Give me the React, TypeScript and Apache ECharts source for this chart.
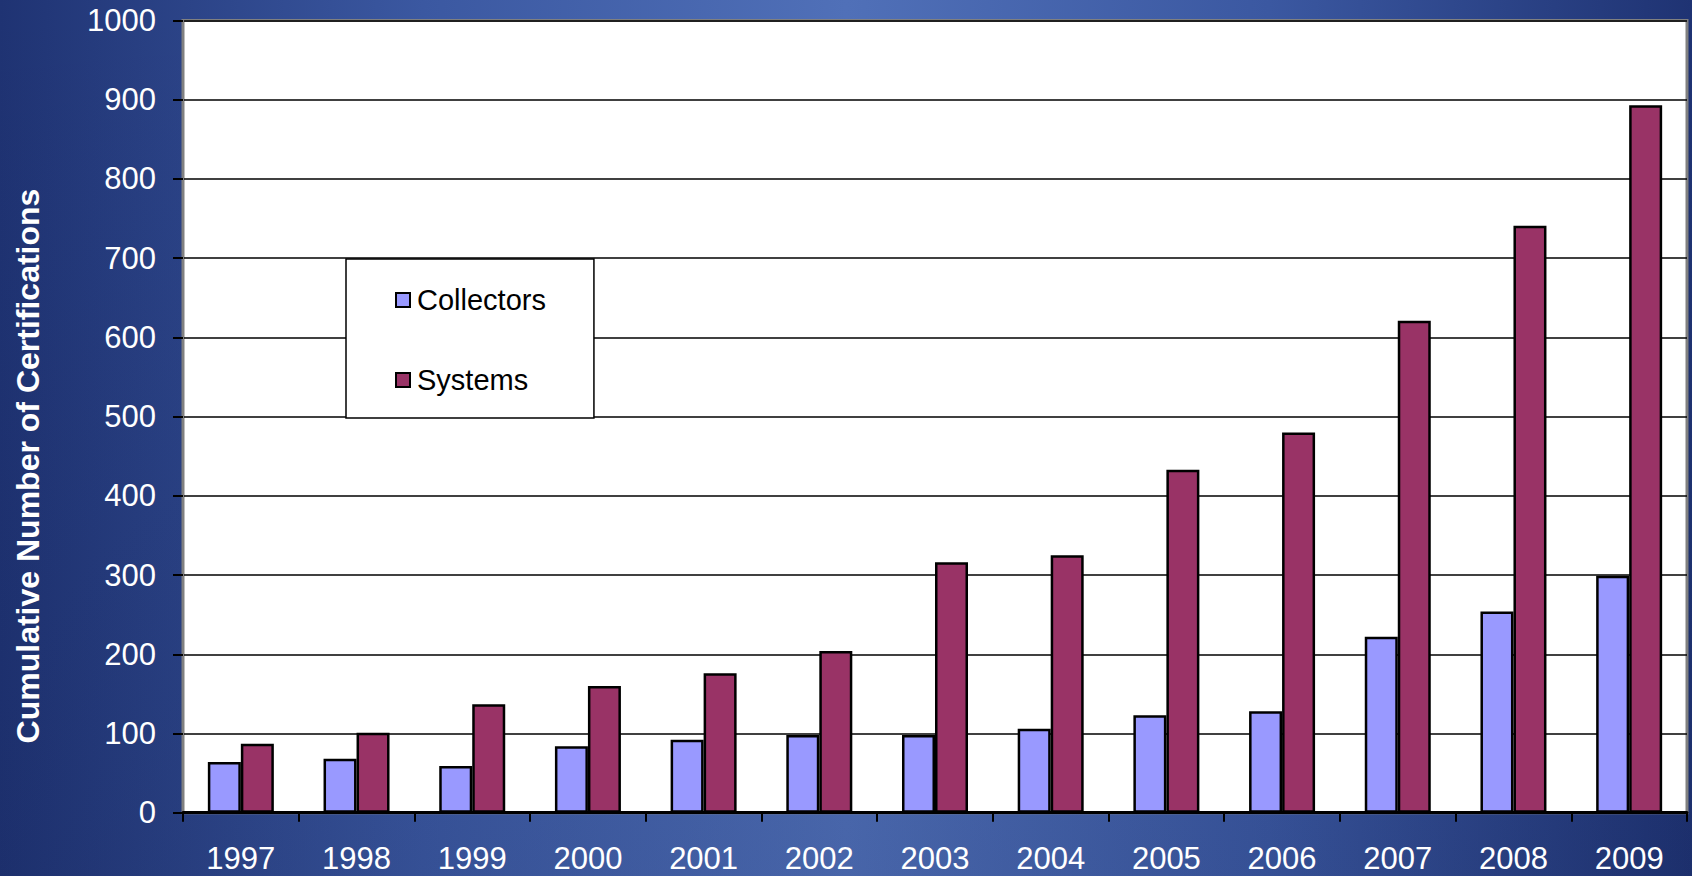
import React, { useEffect, useRef } from "react";
import * as echarts from "echarts";

const years = ["1997", "1998", "1999", "2000", "2001", "2002", "2003", "2004", "2005", "2006", "2007", "2008", "2009"];
const collectors = [64, 68, 59, 84, 92, 98, 98, 106, 123, 128, 222, 254, 299];
const systems = [87, 101, 137, 160, 176, 204, 316, 325, 433, 480, 621, 741, 893];
const yTitle = "Cumulative Number of Certifications";
const seriesNames = ["Collectors", "Systems"];

const FONT = "'Liberation Sans', Arial, Helvetica, sans-serif";

export default function App() {
  const ref = useRef<HTMLDivElement>(null);

  useEffect(() => {
    document.body.style.margin = "0";
    const chart = echarts.init(ref.current!, undefined, { renderer: "svg" });
    chart.setOption({
      animation: false,
      backgroundColor: "transparent",
      textStyle: { fontFamily: FONT },
      grid: {
        left: 183,
        right: 5,
        top: 20.5,
        bottom: 63.3,
        show: true,
        backgroundColor: "#ffffff",
        borderColor: "#808080",
        borderWidth: 3,
        containLabel: false,
      },
      legend: {
        orient: "vertical",
        left: 346,
        top: 259,
        padding: [23, 48, 20, 49],
        backgroundColor: "#ffffff",
        borderColor: "#000000",
        borderWidth: 1.5,
        borderRadius: 0,
        itemWidth: 14,
        itemHeight: 14,
        itemGap: 44,
        icon: "rect",
        itemStyle: { borderColor: "#000000", borderWidth: 2 },
        textStyle: { fontSize: 29, color: "#000000", fontFamily: FONT, lineHeight: 36, padding: [0, 0, 0, 2] },
        data: seriesNames,
      },
      xAxis: {
        type: "category",
        data: years,
        boundaryGap: true,
        axisLine: { show: true, lineStyle: { color: "#000000", width: 3 } },
        axisTick: { show: true, length: 9, lineStyle: { color: "#000000", width: 2 } },
        axisLabel: { color: "#ffffff", fontSize: 31, lineHeight: 31, fontFamily: FONT, margin: 30 },
        splitLine: { show: false },
      },
      yAxis: {
        type: "value",
        min: 0,
        max: 1000,
        interval: 100,
        axisLine: { show: true, lineStyle: { color: "#808080", width: 2 } },
        axisTick: { show: true, length: 10, lineStyle: { color: "#000000", width: 2 } },
        axisLabel: {
          color: "#ffffff",
          fontSize: 31,
          fontFamily: FONT,
          margin: 27,
          formatter: (v: number) => String(v),
        },
        splitLine: { show: true, lineStyle: { color: "#000000", width: 1.5 } },
      },
      graphic: [
        {
          type: "text",
          x: 28,
          y: 466,
          rotation: Math.PI / 2,
          style: {
            text: yTitle,
            fill: "#ffffff",
            font: `bold 32px ${FONT}`,
            align: "center",
            verticalAlign: "middle",
          },
        },
      ],
      series: [
        {
          name: seriesNames[0],
          type: "bar",
          data: collectors,
          barWidth: 33,
          barGap: "0%",
          itemStyle: { color: "#9999FF", borderColor: "#000000", borderWidth: 2.5 },
        },
        {
          name: seriesNames[1],
          type: "bar",
          data: systems,
          barWidth: 33,
          barGap: "0%",
          itemStyle: { color: "#993366", borderColor: "#000000", borderWidth: 2.5 },
        },
      ],
    });
    return () => chart.dispose();
  }, []);

  return (
    <div
      style={{
        position: "absolute",
        left: 0,
        top: 0,
        width: 1692,
        height: 876,
        background:
          "linear-gradient(to bottom, rgba(10,20,60,0) 0%, rgba(10,20,60,0.12) 100%), linear-gradient(to right, #1f3373 0%, #3b58a1 25%, #5070b8 50%, #3b58a1 75%, #1f3373 100%)",
      }}
    >
      <div ref={ref} style={{ width: 1692, height: 876 }} />
    </div>
  );
}
